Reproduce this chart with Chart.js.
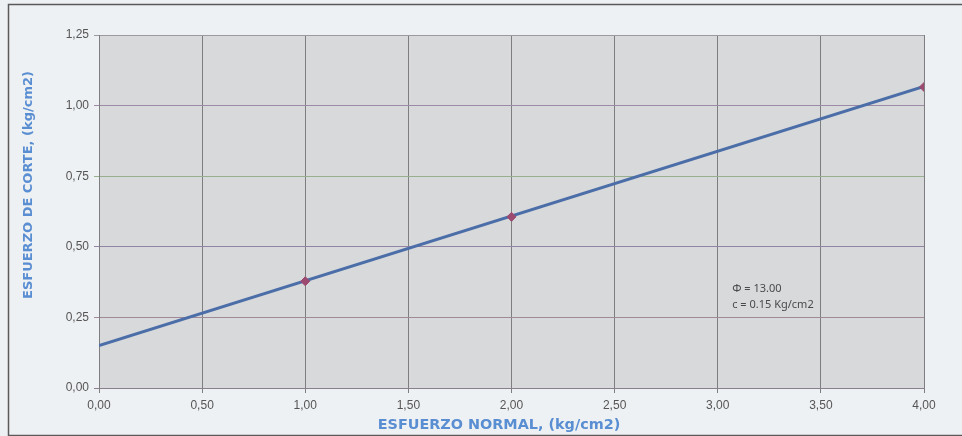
<!DOCTYPE html>
<html>
<head>
<meta charset="utf-8">
<script src="https://cdn.jsdelivr.net/npm/chart.js@4/dist/chart.umd.min.js"></script>
<style>
  html, body { margin: 0; padding: 0; background: #eef1f3; }
  #wrap { width: 962px; height: 436px; position: relative; }
</style>
</head>
<body>
<div id="wrap"><canvas id="grafico" width="962" height="436"></canvas></div>
<script>
// --- DATOS ---
const esfuerzoNormal = [1, 2, 4];
const esfuerzoCorte = [0.378, 0.606, 1.066];
const rectaX = [0, 4];
const rectaY = [0.15, 1.068];
const xTicks = [0, 0.5, 1, 1.5, 2, 2.5, 3, 3.5, 4];
const yTicks = [0, 0.25, 0.5, 0.75, 1, 1.25];
const anotacion = ['\u03A6 = 13.00', 'c = 0.15 Kg/cm2'];

const coma = v => v.toFixed(2).replace('.', ',');

// fondo gris del area de trazado + marco + titulos
const decoPlugin = {
    id: 'deco',
    beforeDraw(chart) {
        const { ctx, chartArea: a } = chart;
        ctx.save();
        ctx.fillStyle = '#eef1f3';
        ctx.fillRect(0, 0, chart.width, chart.height);
        ctx.fillStyle = '#d8d9db';
        ctx.fillRect(a.left, a.top, a.right - a.left, a.bottom - a.top);
        ctx.strokeStyle = '#5a5a5a';
        ctx.lineWidth = 1.5;
        ctx.strokeRect(8.5, 4.5, chart.width + 10, chart.height - 5);
        ctx.restore();
    },
    afterDraw(chart) {
        const { ctx } = chart;
        ctx.save();
        ctx.fillStyle = '#5a8ed2';
        ctx.textAlign = 'center';
        ctx.textBaseline = 'middle';
        ctx.font = 'bold 14.4px "DejaVu Sans", "Liberation Sans", sans-serif';
        ctx.fillText('ESFUERZO NORMAL, (kg/cm2)', 499, 425);
        ctx.font = 'bold 13px "DejaVu Sans", "Liberation Sans", sans-serif';
        ctx.translate(29, 185);
        ctx.rotate(-Math.PI / 2);
        ctx.fillText('ESFUERZO DE CORTE, (kg/cm2)', 0, 0);
        ctx.restore();

        const xs = chart.scales.x, ys = chart.scales.y;
        ctx.save();
        ctx.fillStyle = '#4a4a4a';
        ctx.font = '11px "Noto Sans", "Liberation Sans", sans-serif';
        ctx.textAlign = 'left';
        ctx.textBaseline = 'middle';
        const px = xs.getPixelForValue(3.07);
        ctx.fillText(anotacion[0], px, ys.getPixelForValue(0.35));
        ctx.fillText(anotacion[1], px, ys.getPixelForValue(0.295));
        ctx.restore();
    }
};

const hColors = ['#8c7f92', '#a08a98', '#9484a4', '#98b08e', '#9c8aa6', '#9a9aa0'];

new Chart(document.getElementById('grafico'), {
    type: 'scatter',
    data: {
        datasets: [
            {
                label: 'recta',
                data: rectaX.map((x, i) => ({ x: x, y: rectaY[i] })),
                showLine: true,
                borderColor: '#4b6ea8',
                borderWidth: 3,
                pointRadius: 0,
                order: 2
            },
            {
                label: 'ensayos',
                data: esfuerzoNormal.map((x, i) => ({ x: x, y: esfuerzoCorte[i] })),
                showLine: false,
                pointStyle: 'rectRot',
                pointRadius: 4.5,
                backgroundColor: '#9c4a70',
                borderColor: '#9c4a70',
                order: 1
            }
        ]
    },
    plugins: [decoPlugin],
    options: {
        responsive: false,
        animation: false,
        layout: { padding: { top: 35, right: 38, left: 0, bottom: 0 } },
        plugins: { legend: { display: false }, tooltip: { enabled: false } },
        scales: {
            x: {
                type: 'linear',
                min: 0, max: 4,
                afterBuildTicks: s => { s.ticks = xTicks.map(v => ({ value: v })); },
                afterFit: s => { s.height = 48; },
                ticks: {
                    callback: v => coma(v),
                    color: '#555',
                    font: { family: '"Liberation Sans", Arial, sans-serif', size: 12 },
                    padding: 5,
                    maxRotation: 0
                },
                grid: { color: '#7e7e80', lineWidth: 1, tickLength: 5 },
                border: { color: '#8a7f8c', width: 1 }
            },
            y: {
                type: 'linear',
                min: 0, max: 1.25,
                afterBuildTicks: s => { s.ticks = yTicks.map(v => ({ value: v })); },
                afterFit: s => { s.width = 99; },
                ticks: {
                    callback: v => coma(v),
                    color: '#555',
                    font: { family: '"Liberation Sans", Arial, sans-serif', size: 12 },
                    padding: 5
                },
                grid: {
                    color: c => hColors[c.index] || '#999',
                    lineWidth: 1,
                    tickLength: 5
                },
                border: { color: '#7e7e80', width: 1 }
            }
        }
    }
});
</script>
</body>
</html>
